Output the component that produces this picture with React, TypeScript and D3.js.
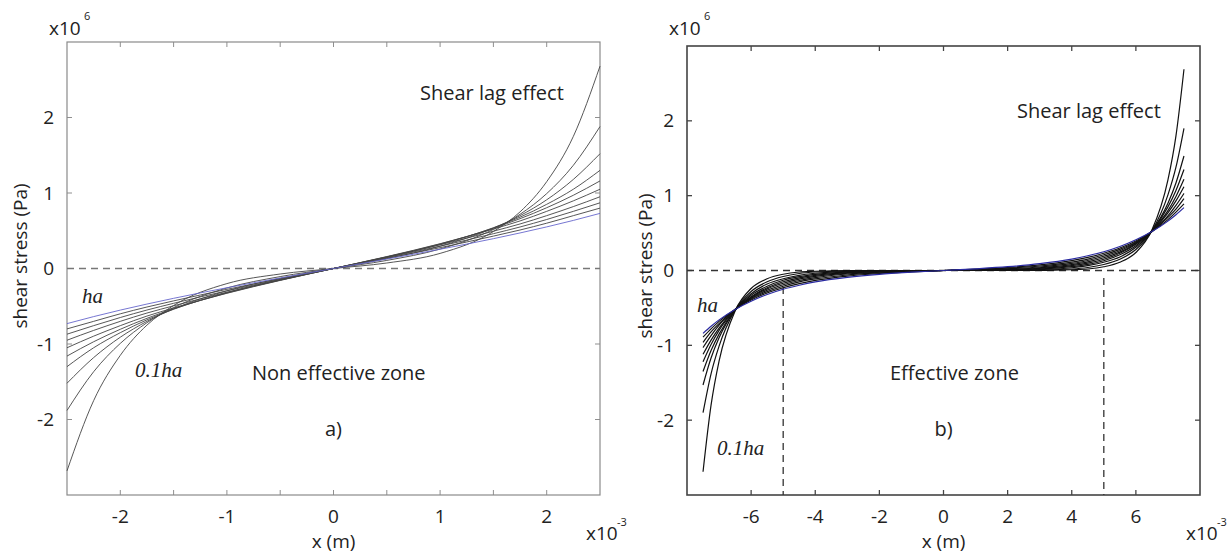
import React from "react";
import * as d3 from "d3";

// panel a) : x in 1e-3 m, shear stress in 1e6 Pa, curves from 0.1ha (first) to ha (last)
const xA = [-2.5, -2.25, -2, -1.75, -1.5, -1, -0.5, 0, 0.5, 1, 1.5, 1.75, 2, 2.25, 2.5];
const a01 = [-2.68, -1.75, -1.15, -0.75, -0.49, -0.2, -0.073, 0, 0.073, 0.2, 0.49, 0.75, 1.15, 1.75, 2.68];
const a02 = [-1.88, -1.367, -0.992, -0.718, -0.518, -0.258, -0.107, 0, 0.107, 0.258, 0.518, 0.718, 0.992, 1.367, 1.88];
const a03 = [-1.52, -1.18, -0.91, -0.7, -0.535, -0.295, -0.131, 0, 0.131, 0.295, 0.535, 0.7, 0.91, 1.18, 1.52];
const a04 = [-1.3, -1.05, -0.85, -0.68, -0.54, -0.318, -0.147, 0, 0.147, 0.318, 0.54, 0.68, 0.85, 1.05, 1.3];
const a05 = [-1.16, -0.97, -0.805, -0.66, -0.534, -0.325, -0.154, 0, 0.154, 0.325, 0.534, 0.66, 0.805, 0.97, 1.16];
const a06 = [-1.05, -0.896, -0.757, -0.63, -0.523, -0.328, -0.158, 0, 0.158, 0.328, 0.523, 0.63, 0.757, 0.896, 1.05];
const a07 = [-0.95, -0.82, -0.7, -0.59, -0.494, -0.314, -0.153, 0, 0.153, 0.314, 0.494, 0.59, 0.7, 0.82, 0.95];
const a08 = [-0.87, -0.757, -0.649, -0.55, -0.461, -0.296, -0.144, 0, 0.144, 0.296, 0.461, 0.55, 0.649, 0.757, 0.87];
const a09 = [-0.8, -0.7, -0.6, -0.51, -0.429, -0.276, -0.135, 0, 0.135, 0.276, 0.429, 0.51, 0.6, 0.7, 0.8];
const a10 = [-0.73, -0.637, -0.551, -0.471, -0.395, -0.255, -0.125, 0, 0.125, 0.255, 0.395, 0.471, 0.551, 0.637, 0.73];

// panel b)
const xB = [-7.5, -7.25, -7, -6.5, -6, -5.5, -5, -4.5, -4, -3, -2, -1, 0, 1, 2, 3, 4, 4.5, 5, 5.5, 6, 6.5, 7, 7.25, 7.5];
const b01 = [-2.69, -1.8, -1.21, -0.54, -0.24, -0.11, -0.05, -0.02, -0.01, 0, 0, 0, 0, 0, 0, 0, 0.01, 0.02, 0.05, 0.11, 0.24, 0.54, 1.21, 1.8, 2.69];
const b02 = [-1.9, -1.38, -1.01, -0.53, -0.28, -0.15, -0.08, -0.04, -0.02, -0.006, -0.002, 0, 0, 0, 0.002, 0.006, 0.02, 0.04, 0.08, 0.15, 0.28, 0.53, 1.01, 1.38, 1.9];
const b03 = [-1.53, -1.17, -0.9, -0.53, -0.31, -0.18, -0.11, -0.064, -0.037, -0.013, -0.004, -0.001, 0, 0.001, 0.004, 0.013, 0.037, 0.064, 0.11, 0.18, 0.31, 0.53, 0.9, 1.17, 1.53];
const b04 = [-1.35, -1.07, -0.85, -0.53, -0.33, -0.21, -0.13, -0.082, -0.051, -0.02, -0.008, -0.003, 0, 0.003, 0.008, 0.02, 0.051, 0.082, 0.13, 0.21, 0.33, 0.53, 0.85, 1.07, 1.35];
const b05 = [-1.22, -0.99, -0.8, -0.53, -0.35, -0.23, -0.15, -0.098, -0.065, -0.028, -0.011, -0.004, 0, 0.004, 0.011, 0.028, 0.065, 0.098, 0.15, 0.23, 0.35, 0.53, 0.8, 0.99, 1.22];
const b06 = [-1.12, -0.93, -0.77, -0.52, -0.36, -0.245, -0.17, -0.115, -0.078, -0.037, -0.016, -0.006, 0, 0.006, 0.016, 0.037, 0.078, 0.115, 0.17, 0.245, 0.36, 0.52, 0.77, 0.93, 1.12];
const b07 = [-1.03, -0.87, -0.73, -0.52, -0.37, -0.264, -0.19, -0.134, -0.095, -0.047, -0.023, -0.009, 0, 0.009, 0.023, 0.047, 0.095, 0.134, 0.19, 0.264, 0.37, 0.52, 0.73, 0.87, 1.03];
const b08 = [-0.96, -0.82, -0.71, -0.52, -0.38, -0.283, -0.21, -0.153, -0.113, -0.06, -0.031, -0.013, 0, 0.013, 0.031, 0.06, 0.113, 0.153, 0.21, 0.283, 0.38, 0.52, 0.71, 0.82, 0.96];
const b09 = [-0.89, -0.78, -0.68, -0.52, -0.395, -0.3, -0.23, -0.175, -0.133, -0.075, -0.04, -0.018, 0, 0.018, 0.04, 0.075, 0.133, 0.175, 0.23, 0.3, 0.395, 0.52, 0.68, 0.78, 0.89];
const b10 = [-0.84, -0.745, -0.66, -0.52, -0.41, -0.32, -0.25, -0.197, -0.153, -0.092, -0.051, -0.023, 0, 0.023, 0.051, 0.092, 0.153, 0.197, 0.25, 0.32, 0.41, 0.52, 0.66, 0.745, 0.84];

const seriesA = [a01, a02, a03, a04, a05, a06, a07, a08, a09, a10];
const seriesB = [b01, b02, b03, b04, b05, b06, b07, b08, b09, b10];

const yTicks = [-2, -1, 0, 1, 2];
const xTicksA = [-2, -1.5, -1, -0.5, 0, 0.5, 1, 1.5, 2];
const xLabelsA = [-2, -1, 0, 1, 2];
const xTicksB = [-6, -4, -2, 0, 2, 4, 6];
const zoneB = [-5, 5];
const zoneTopB = [-0.22, -0.1];

const SANS = "'Open Sans', 'DejaVu Sans', sans-serif";
const SERIF = "'Liberation Serif', 'DejaVu Serif', serif";

function Panel({ left, right, top, bottom, xDomain, xs, series, xTicks, xLabels, frame, curve, blue, lw, vlines, vtops, tag, zone, zoneX, shearX, shearY, haX, haY, tenthX, tenthY, ylabelX, ylabelY }) {
  const x = d3.scaleLinear().domain(xDomain).range([left, right]);
  const y = d3.scaleLinear().domain([-3, 3]).range([bottom, top]);
  const line = d3.line<number>().x((d, i) => x(xs[i])).y((d) => y(d)).curve(d3.curveMonotoneX);
  const tk = 5;
  const n = series.length;
  return (
    <g>
      {/* frame and inner ticks */}
      <rect x={left} y={top} width={right - left} height={bottom - top} fill="none" stroke={frame.color} strokeWidth={frame.w} />
      {xTicks.map((t) => (
        <g key={"xt" + t} stroke={frame.color} strokeWidth={frame.w * 0.8}>
          <line x1={x(t)} x2={x(t)} y1={bottom} y2={bottom - tk} />
          <line x1={x(t)} x2={x(t)} y1={top} y2={top + tk} />
        </g>
      ))}
      {yTicks.map((t) => (
        <g key={"yt" + t} stroke={frame.color} strokeWidth={frame.w * 0.8}>
          <line x1={left} x2={left + tk} y1={y(t)} y2={y(t)} />
          <line x1={right} x2={right - tk} y1={y(t)} y2={y(t)} />
        </g>
      ))}
      {/* zero line and zone limits */}
      <line x1={left} x2={right} y1={y(0)} y2={y(0)} stroke={frame.dash} strokeWidth={1.3} strokeDasharray="7,5" />
      {vlines.map((v, i) => (
        <line key={"v" + v} x1={x(v)} x2={x(v)} y1={y(vtops[i])} y2={bottom} stroke={frame.dash} strokeWidth={1.3} strokeDasharray="7,5" />
      ))}
      {/* curves */}
      {series.map((s, i) => (
        <path key={"c" + i} d={line(s) || ""} fill="none" stroke={i === n - 1 ? blue : curve} strokeWidth={lw} />
      ))}
      {/* tick labels */}
      {yTicks.map((t) => (
        <text key={"yl" + t} x={left - 13} y={y(t) + 6.5} textAnchor="end" fontSize={19} fontFamily={SANS} fill="#222">{t}</text>
      ))}
      {xLabels.map((t) => (
        <text key={"xl" + t} x={x(t)} y={523} textAnchor="middle" fontSize={19} fontFamily={SANS} fill="#222">{t}</text>
      ))}
      <text x={left - 18} y={35} fontSize={19} fontFamily={SANS} fill="#222">x10</text>
      <text x={left + 17} y={20} fontSize={11} fontFamily={SANS} fill="#222">6</text>
      <text x={right - 14} y={540} fontSize={19} fontFamily={SANS} fill="#222">x10</text>
      <text x={right + 17} y={526} fontSize={11} fontFamily={SANS} fill="#222">-3</text>
      <text x={x(0)} y={548} textAnchor="middle" fontSize={19} fontFamily={SANS} fill="#222">x (m)</text>
      <text transform={`translate(${ylabelX},${ylabelY}) rotate(-90)`} textAnchor="middle" dominantBaseline="central" fontSize={19} fontFamily={SANS} fill="#222">shear stress (Pa)</text>
      {/* annotations */}
      <text x={shearX} y={shearY} fontSize={20} fontFamily={SANS} fill="#222">Shear lag effect</text>
      <text x={zoneX} y={380} fontSize={20} fontFamily={SANS} fill="#222">{zone}</text>
      <text x={x(0)} y={436} textAnchor="middle" fontSize={20} fontFamily={SANS} fill="#222">{tag}</text>
      <text x={haX} y={haY} fontSize={21} fontStyle="italic" fontFamily={SERIF} fill="#222">ha</text>
      <text x={tenthX} y={tenthY} fontSize={21} fontStyle="italic" fontFamily={SERIF} fill="#222">0.1ha</text>
    </g>
  );
}

export default function App() {
  return (
    <svg width={1229} height={553} style={{ position: "absolute", left: 0, top: 0, background: "#fff" }}>
      <Panel
        left={67} right={600} top={42} bottom={495}
        xDomain={[-2.5, 2.5]} xs={xA} series={seriesA}
        xTicks={xTicksA} xLabels={xLabelsA}
        frame={{ color: "#8a8a8a", w: 1.2, dash: "#777" }}
        curve="#444" blue="#6666cc" lw={0.9}
        vlines={[]} vtops={[]}
        tag="a)" zone="Non effective zone" zoneX={252}
        shearX={420} shearY={100}
        haX={82} haY={303} tenthX={135} tenthY={377}
        ylabelX={20} ylabelY={256}
      />
      <Panel
        left={687} right={1200} top={46} bottom={495}
        xDomain={[-8, 8]} xs={xB} series={seriesB}
        xTicks={xTicksB} xLabels={xTicksB}
        frame={{ color: "#444", w: 1.6, dash: "#333" }}
        curve="#111" blue="#2a2aa0" lw={1.2}
        vlines={zoneB} vtops={zoneTopB}
        tag="b)" zone="Effective zone" zoneX={890}
        shearX={1017} shearY={118}
        haX={697} haY={312} tenthX={717} tenthY={455}
        ylabelX={645} ylabelY={266}
      />
    </svg>
  );
}
